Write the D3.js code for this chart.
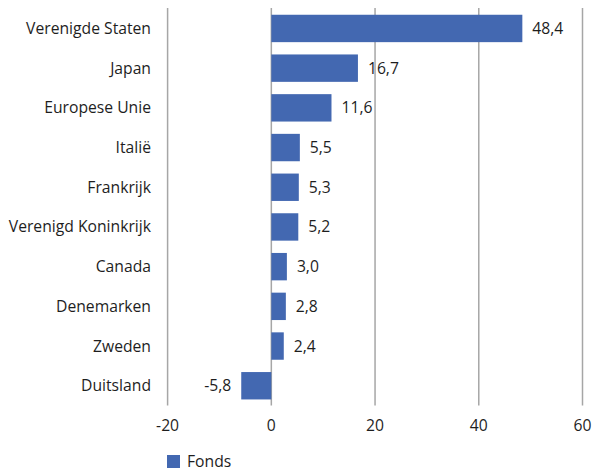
<!DOCTYPE html>
<html>
<head>
<meta charset="utf-8">
<script src="https://cdn.jsdelivr.net/npm/d3@7"></script>
<style>
  body { margin: 0; background: #fff; }
  text { font-family: "Open Sans", "Noto Sans", sans-serif; fill: #1e1e1e; }
</style>
</head>
<body>
<svg id="chart" width="595" height="472"></svg>
<script>
// landen en waarden (fonds)
const countries = ["Verenigde Staten", "Japan", "Europese Unie", "Italië", "Frankrijk",
    "Verenigd Koninkrijk", "Canada", "Denemarken", "Zweden", "Duitsland"];
const fondsValues = [48.4, 16.7, 11.6, 5.5, 5.3, 5.2, 3.0, 2.8, 2.4, -5.8];
const xTicks = [-20, 0, 20, 40, 60];
const seriesName = "Fonds";

const barColor = "#4368b1";
const gridColor = "#a6a6a6";
const fontSize = "15.7px";

let svg = d3.select("#chart");
// komma als decimaalteken, gewoon minteken
let fmt = function(v) { return d3.format(".1f")(v).replace(".", ",").replace("\u2212", "-"); };

let x = d3.scaleLinear().domain([-20, 60]).range([167.6, 582.5]);
let y = d3.scaleBand().domain(countries).range([8.6, 405.6]).paddingInner(0.31).paddingOuter(0.155);

// gridlines
svg.append("g").selectAll("line")
    .data(xTicks)
    .enter()
    .append("line")
    .attr("x1", d => x(d)).attr("x2", d => x(d))
    .attr("y1", 8).attr("y2", 405.6)
    .style("stroke", gridColor)
    .style("stroke-width", 1.5);

// bars
svg.append("g").selectAll("rect")
    .data(fondsValues)
    .enter()
    .append("rect")
    .attr("x", d => x(Math.min(0, d)))
    .attr("y", (d, i) => y(countries[i]))
    .attr("width", d => Math.abs(x(d) - x(0)))
    .attr("height", y.bandwidth())
    .style("fill", barColor);

// value labels
svg.append("g").selectAll("text")
    .data(fondsValues)
    .enter()
    .append("text")
    .attr("x", d => d < 0 ? x(d) - 10 : x(d) + 10)
    .attr("y", (d, i) => y(countries[i]) + y.bandwidth() / 2)
    .attr("dy", "0.35em")
    .attr("text-anchor", d => d < 0 ? "end" : "start")
    .attr("font-size", fontSize)
    .text(d => fmt(d));

// category labels
svg.append("g").selectAll("text")
    .data(countries)
    .enter()
    .append("text")
    .attr("x", 151)
    .attr("y", d => y(d) + y.bandwidth() / 2)
    .attr("dy", "0.35em")
    .attr("text-anchor", "end")
    .attr("font-size", fontSize)
    .text(d => d);

// x tick labels
svg.append("g").selectAll("text")
    .data(xTicks)
    .enter()
    .append("text")
    .attr("x", d => x(d))
    .attr("y", 426)
    .attr("dy", "0.35em")
    .attr("text-anchor", "middle")
    .attr("font-size", fontSize)
    .text(d => String(d));

// legend
let legend = svg.append("g").attr("transform", "translate(167,455)");
legend.append("rect").attr("width", 13).attr("height", 13).style("fill", barColor);
legend.append("text").attr("x", 20).attr("y", 6.5).attr("dy", "0.35em")
    .attr("font-size", fontSize).text(seriesName);
</script>
</body>
</html>
